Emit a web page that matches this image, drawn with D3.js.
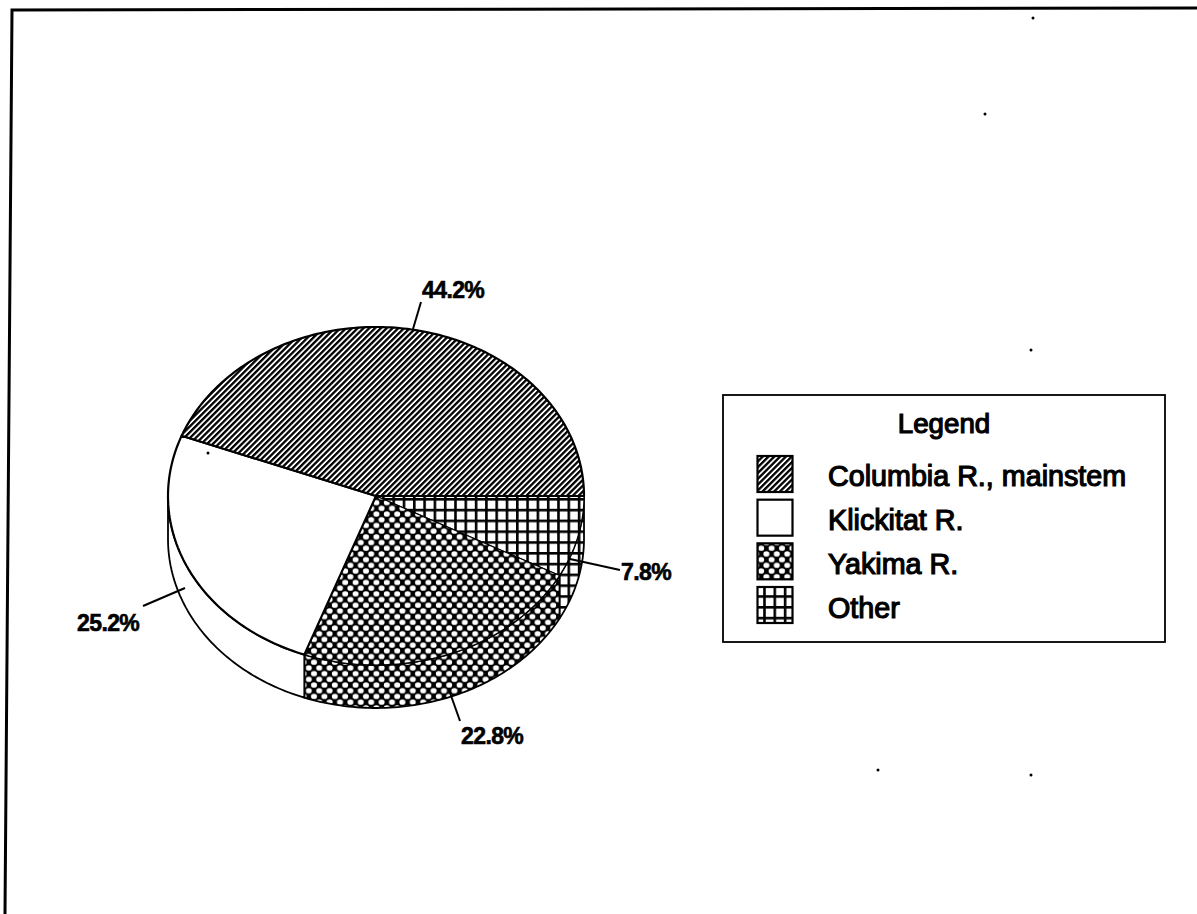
<!DOCTYPE html>
<html>
<head>
<meta charset="utf-8">
<script src="https://cdn.jsdelivr.net/npm/d3@7/dist/d3.min.js"></script>
<style>
html,body{margin:0;padding:0;background:#fff;overflow:hidden}
text{font-family:"Liberation Sans",Arial,sans-serif;fill:#000;stroke:#000}
</style>
</head>
<body>
<script>
const categories = ["Other", "Yakima R.", "Klickitat R.", "Columbia R., mainstem"];
const values = [7.8, 22.8, 25.2, 44.2];
const valueLabels = ["7.8%", "22.8%", "25.2%", "44.2%"];
const legendOrder = ["Columbia R., mainstem", "Klickitat R.", "Yakima R.", "Other"];
const patternIds = ["p-grid", "p-dots", "p-none", "p-hatch"];
const specks = [[985,114],[1033,18],[1031,350],[878,770],[1031,775],[208,453]];

const W = 1197, H = 914;
const cx = 376, cy = 496, rx = 208, ry = 169, depth = 43;

const svg = d3.select("body").append("svg").attr("width", W).attr("height", H).style("display","block");
const defs = svg.append("defs");

const hatch = defs.append("pattern").attr("id","p-hatch").attr("patternUnits","userSpaceOnUse")
  .attr("width",4.1).attr("height",4.1).attr("patternTransform","rotate(45)");
hatch.append("rect").attr("width",4.1).attr("height",4.1).attr("fill","#fff");
hatch.append("rect").attr("width",2.3).attr("height",4.1).attr("fill","#000");

const dots = defs.append("pattern").attr("id","p-dots").attr("patternUnits","userSpaceOnUse")
  .attr("width",10.4).attr("height",11.4).attr("x",2).attr("y",1);
dots.append("rect").attr("width",10.4).attr("height",11.4).attr("fill","#000");
[[0,0],[10.4,0],[0,11.4],[10.4,11.4],[5.2,5.7]].forEach(c =>
  dots.append("ellipse").attr("cx",c[0]).attr("cy",c[1]).attr("rx",3).attr("ry",2.7).attr("fill","#fff"));

const grid = defs.append("pattern").attr("id","p-grid").attr("patternUnits","userSpaceOnUse")
  .attr("width",10.3).attr("height",10.8).attr("x",1).attr("y",498);
grid.append("rect").attr("width",10.3).attr("height",10.8).attr("fill","#fff");
grid.append("rect").attr("width",2.6).attr("height",10.8).attr("fill","#000");
grid.append("rect").attr("width",10.3).attr("height",2.6).attr("fill","#000");

const none = defs.append("pattern").attr("id","p-none").attr("patternUnits","userSpaceOnUse")
  .attr("width",10).attr("height",10);
none.append("rect").attr("width",10).attr("height",10).attr("fill","#fff");

const ink = "#000";

// frame (slightly skewed, as scanned; no right or bottom edge)
svg.append("path").attr("d", d3.line()([[5,914],[12,10],[1197,8]]))
  .attr("fill","none").attr("stroke",ink).attr("stroke-width",3);

// pie: starts at the 3 o'clock direction, runs clockwise
const pie = d3.pie().sort(null).startAngle(Math.PI/2).endAngle(Math.PI/2 + 2*Math.PI);
const arcs = pie(values);
const pt = (a, dy=0) => [cx + rx*Math.sin(a), cy - ry*Math.cos(a) + dy];
const sample = (a0, a1, dy=0) => {
  const n = Math.max(2, Math.ceil(Math.abs(a1-a0)/0.02));
  return d3.range(n+1).map(i => pt(a0 + (a1-a0)*i/n, dy));
};
const line = d3.line();

// side walls (only the near half, π/2 .. 3π/2 in d3 angle)
arcs.forEach((d,i) => {
  const a0 = Math.max(d.startAngle, Math.PI/2), a1 = Math.min(d.endAngle, 3*Math.PI/2);
  if (a1 <= a0) return;
  const poly = sample(a0,a1,0).concat(sample(a1,a0,depth));
  svg.append("path").attr("d", line(poly)+"Z")
    .attr("fill",`url(#${patternIds[i]})`).attr("stroke",ink).attr("stroke-width",1.8).attr("stroke-linejoin","round");
});

// top slices; the patterned slices carry a thin rim so it only shows faintly through the fill
arcs.forEach((d,i) => {
  const poly = [[cx,cy]].concat(sample(d.startAngle,d.endAngle,0));
  svg.append("path").attr("d", line(poly)+"Z")
    .attr("fill",`url(#${patternIds[i]})`).attr("stroke",ink)
    .attr("stroke-width", i < 2 ? 1.2 : 2.2).attr("stroke-linejoin","round");
});

// leaders and percentage labels
const leaders = [
  {from:[620,570], to:[570,559], at:[621,580]},
  {from:[449,690], to:[460,721], at:[461,744]},
  {from:[143,606], to:[185,588], at:[77,631]},
  {from:[413,329], to:[421,302], at:[422,298]}
];
valueLabels.forEach((t,i) => {
  const l = leaders[i];
  svg.append("path").attr("d", line([l.from,l.to])).attr("stroke",ink).attr("stroke-width",2).attr("fill","none");
  svg.append("text").attr("x",l.at[0]).attr("y",l.at[1]).attr("font-size",23)
    .attr("font-weight","bold").attr("stroke-width",0.6).attr("letter-spacing",-0.6).text(t);
});

// legend
const lg = svg.append("g");
lg.append("rect").attr("x",723).attr("y",395).attr("width",442).attr("height",247)
  .attr("fill","#fff").attr("stroke",ink).attr("stroke-width",1.8);
lg.append("text").attr("x",944).attr("y",433).attr("text-anchor","middle")
  .attr("font-size",27.7).attr("stroke-width",1.2).text("Legend");

const rowY = d3.scalePoint().domain(legendOrder).range([456,587]);
const legendBaseline = d3.scalePoint().domain(legendOrder).range([486,618]);
legendOrder.forEach(name => {
  const i = categories.indexOf(name);
  const y = rowY(name);
  lg.append("rect").attr("x",757.5).attr("y",y).attr("width",35).attr("height",36)
    .attr("fill",`url(#${patternIds[i]})`).attr("stroke",ink).attr("stroke-width",2.2);
  lg.append("text").attr("x",828).attr("y",legendBaseline(name))
    .attr("font-size",28.7).attr("stroke-width",1.2).text(name);
});

// scan specks
svg.append("g").selectAll("circle").data(specks).join("circle")
  .attr("cx",d=>d[0]).attr("cy",d=>d[1]).attr("r",1.5).attr("fill",ink);
</script>
</body>
</html>
